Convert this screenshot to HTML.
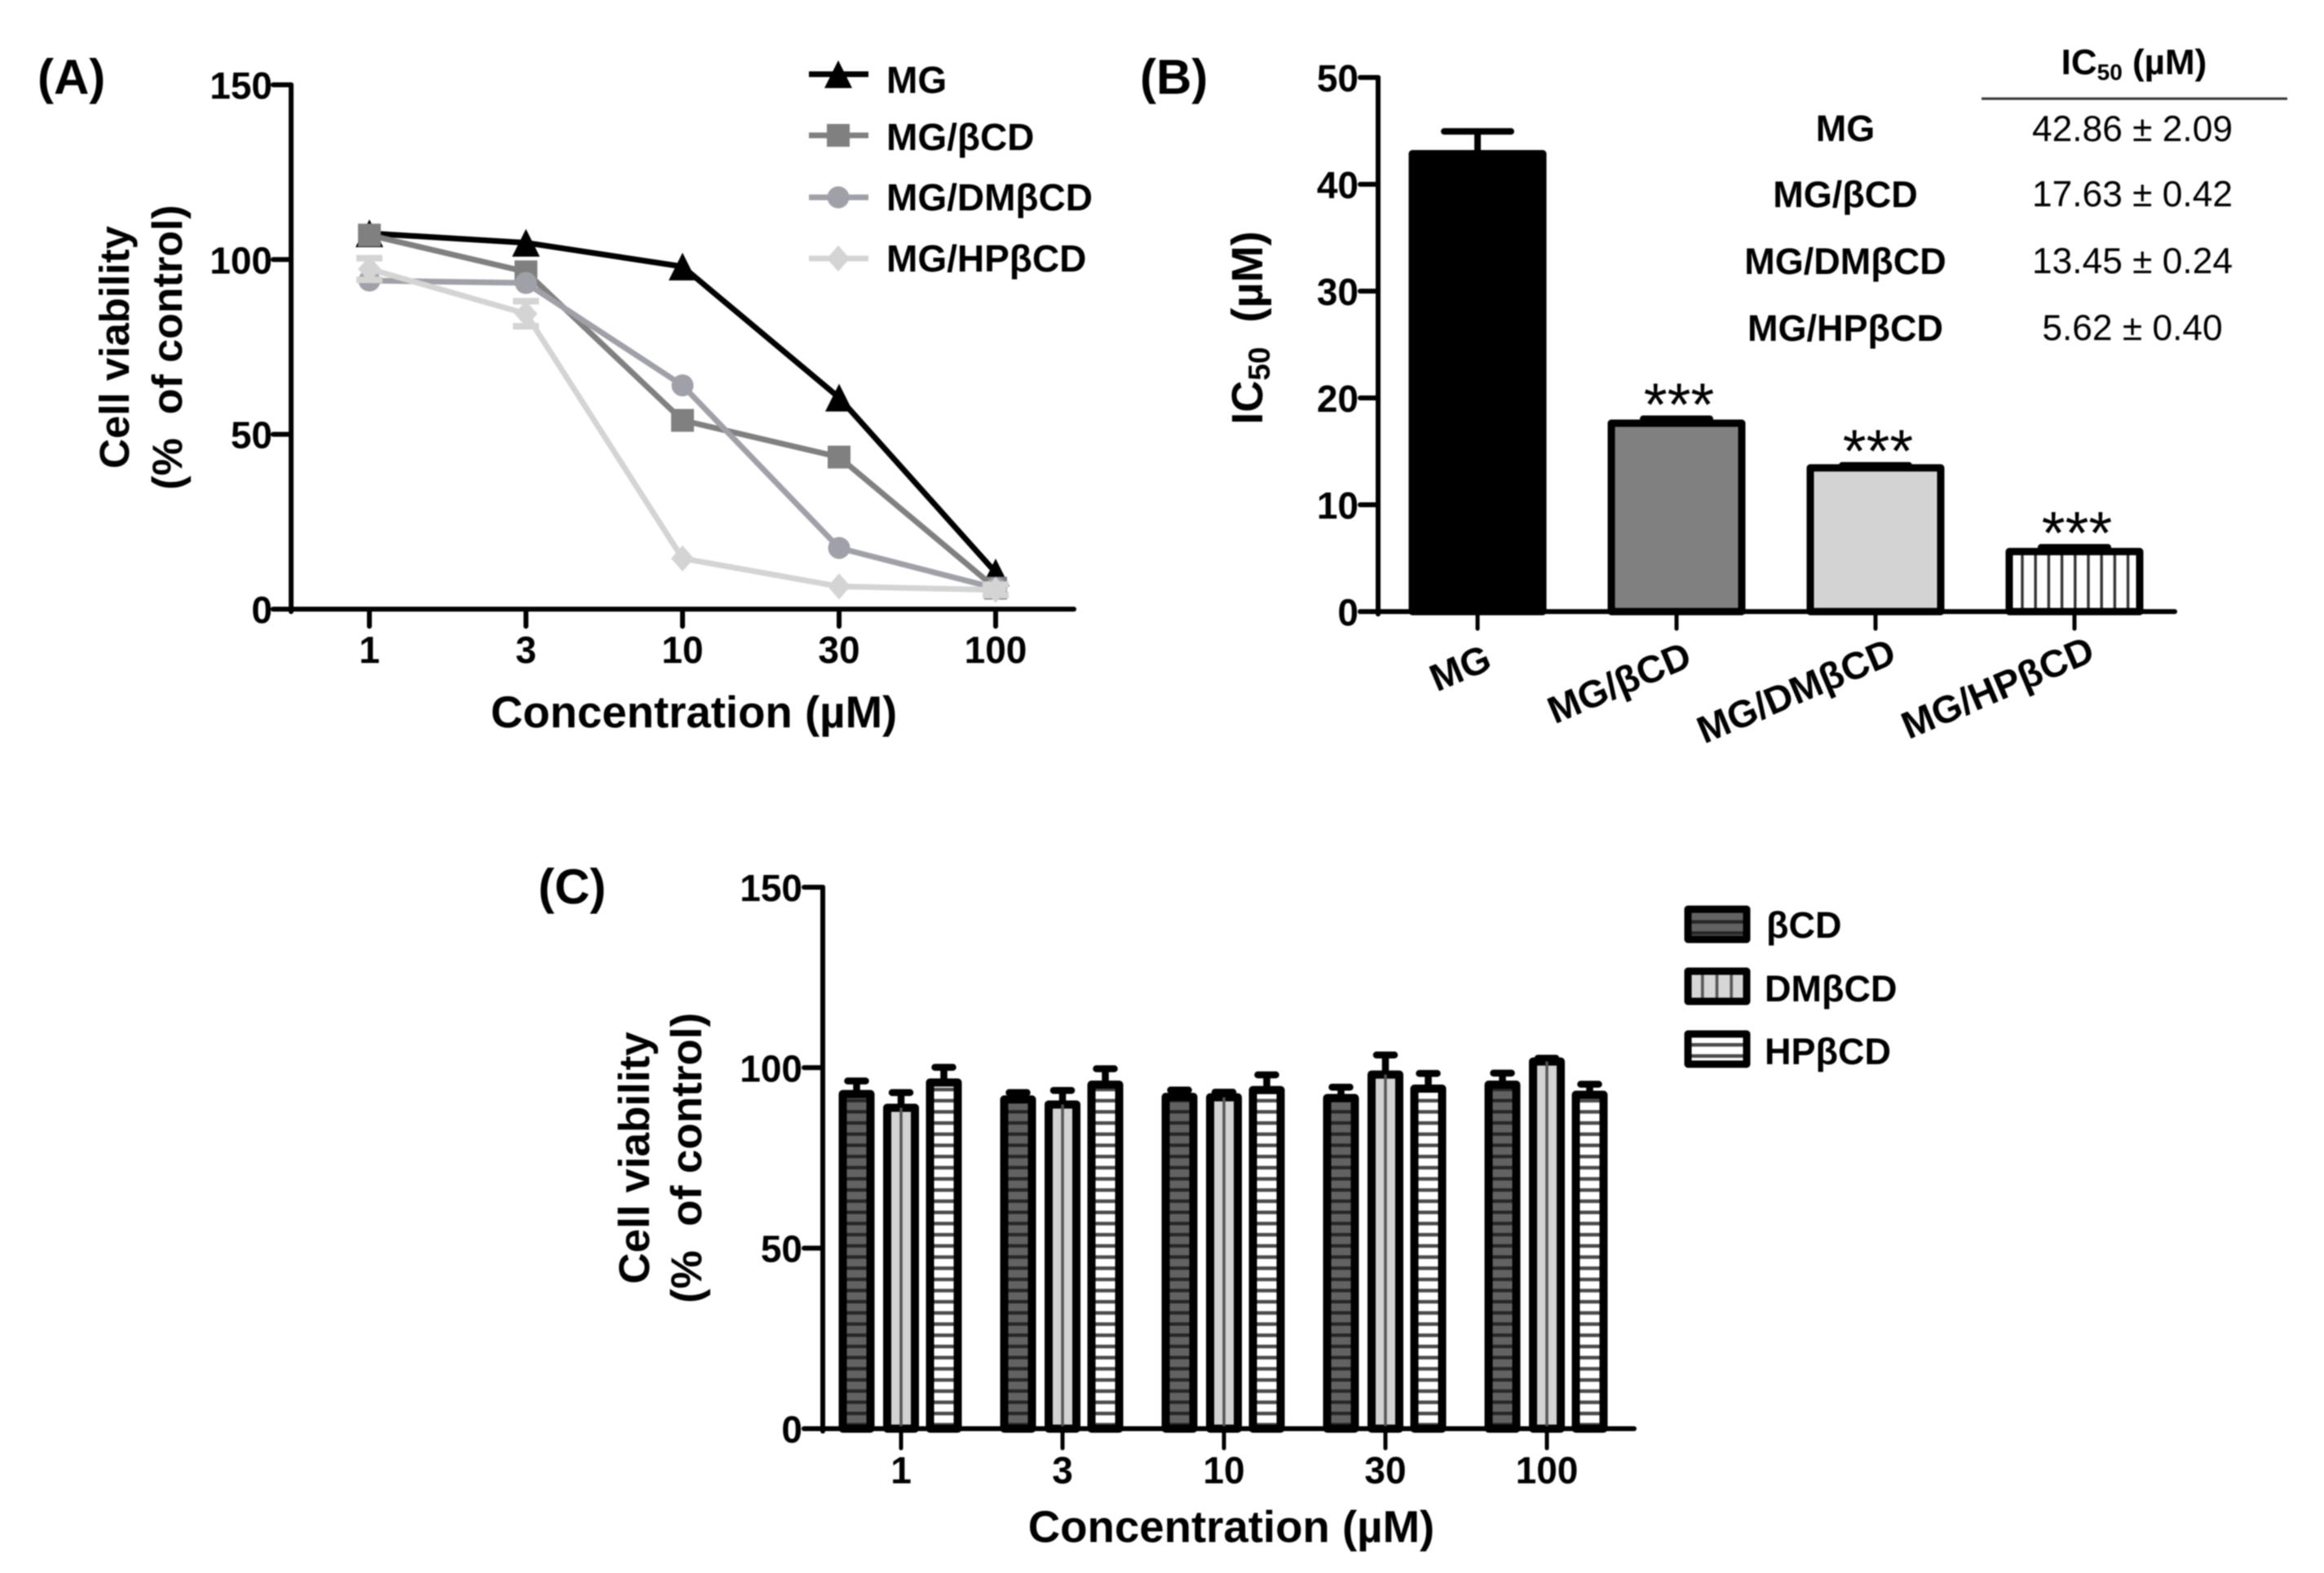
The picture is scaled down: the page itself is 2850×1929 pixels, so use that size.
<!DOCTYPE html>
<html lang="en">
<head>
<meta charset="utf-8">
<title>Cell viability and IC50 charts</title>
<style>
html,body{margin:0;padding:0;background:#fff;}
#figure{display:block;width:2850px;height:1929px;filter:blur(0.9px);}
text{font-family:"Liberation Sans",sans-serif;fill:#000;}
.b{font-weight:bold;}
</style>
</head>
<body>
<svg id="figure" xmlns="http://www.w3.org/2000/svg" width="2850" height="1929" viewBox="0 0 2850 1929">
  <defs>
    <pattern id="hatch-dark" patternUnits="userSpaceOnUse" width="20" height="13.7"><rect width="20" height="13.7" fill="#626262"/><rect y="5" width="20" height="4.2" fill="#262626"/></pattern>
    <pattern id="hatch-white" patternUnits="userSpaceOnUse" width="20" height="13.7"><rect width="20" height="13.7" fill="#fff"/><rect y="5" width="20" height="4.4" fill="#4a4a4a"/></pattern>
    <pattern id="hatch-vert" patternUnits="userSpaceOnUse" x="2471.9" width="16.2" height="20"><rect width="16.2" height="20" fill="#fff"/><rect x="6.4" width="3.4" height="20" fill="#333"/></pattern>
    <pattern id="hatch-legend" patternUnits="userSpaceOnUse" x="2079" width="17.7" height="20"><rect width="17.7" height="20" fill="#d6d6d6"/><rect x="7" width="3.6" height="20" fill="#555"/></pattern>
  </defs>

  <g id="panel-a">
    <text class="b" x="46" y="115" font-size="60">(A)</text>
    <text class="b" font-size="51" text-anchor="middle" transform="translate(158,426) rotate(-90)">Cell viability</text>
    <text class="b" font-size="52" text-anchor="middle" xml:space="preserve" transform="translate(223,426) rotate(-90)">(%&#160; of control)</text>
    <text class="b" font-size="54.6" text-anchor="middle" x="851" y="892">Concentration (µM)</text>
    <g>
      <text class="b" font-size="46" x="1087" y="114">MG</text>
      <text class="b" font-size="46" x="1087" y="184">MG/βCD</text>
      <text class="b" font-size="46" x="1087" y="258">MG/DMβCD</text>
      <text class="b" font-size="46" x="1087" y="333">MG/HPβCD</text>
    </g>
  </g>

  <g id="panel-b">
    <text class="b" x="1398" y="115" font-size="60">(B)</text>
    <text class="b" font-size="54" text-anchor="middle" xml:space="preserve" transform="translate(1548,402) rotate(-90)">IC<tspan font-size="37" dy="9">50</tspan><tspan dy="-9">&#160; (µM)</tspan></text>
    <g>
      <text class="b" font-size="44" text-anchor="middle" x="2617" y="91">IC<tspan font-size="28" dy="7">50</tspan><tspan dy="-7"> (µM)</tspan></text>
      <line x1="2430" x2="2805" y1="121" y2="121" stroke="#333" stroke-width="3"/>
      <text class="b" font-size="45" text-anchor="middle" x="2263" y="173">MG</text>
      <text class="b" font-size="45" text-anchor="middle" x="2263" y="254">MG/βCD</text>
      <text class="b" font-size="45" text-anchor="middle" x="2263" y="336">MG/DMβCD</text>
      <text class="b" font-size="45" text-anchor="middle" x="2263" y="418">MG/HPβCD</text>
      <text font-size="44.3" text-anchor="middle" x="2615" y="173">42.86 ± 2.09</text>
      <text font-size="44.3" text-anchor="middle" x="2615" y="253">17.63 ± 0.42</text>
      <text font-size="44.3" text-anchor="middle" x="2615" y="335">13.45 ± 0.24</text>
      <text font-size="44.3" text-anchor="middle" x="2615" y="417">5.62 ± 0.40</text>
    </g>
  </g>

  <g id="panel-c">
    <text class="b" x="660" y="1108" font-size="60">(C)</text>
    <text class="b" font-size="53" text-anchor="middle" transform="translate(796,1420) rotate(-90)">Cell viability</text>
    <text class="b" font-size="53" text-anchor="middle" xml:space="preserve" transform="translate(860,1420) rotate(-90)">(%&#160; of control)</text>
    <text class="b" font-size="54.6" text-anchor="middle" x="1510" y="1891">Concentration (µM)</text>
    <g>
      <text class="b" font-size="45" x="2166" y="1150">βCD</text>
      <text class="b" font-size="45" x="2164" y="1228">DMβCD</text>
      <text class="b" font-size="45" x="2164" y="1305">HPβCD</text>
    </g>
  </g>
</svg>

<script>
// Panel A data
var concLabels = ["1", "3", "10", "30", "100"];
var viabilityTicks = [0, 50, 100, 150];
var seriesMG = [107.5, 104.8, 98, 60.5, 10.5];
var seriesBCD = [107, 96.5, 54, 43.5, 6];
var seriesDM = [94, 93.3, 64, 17.5, 6];
var seriesHP = [97.3, 84.5, 14.5, 6.5, 5.5];
var errHP = [3.1, 3.6, 0, 0, 1.5];

// Panel B data
var ic50Labels = ["MG", "MG/βCD", "MG/DMβCD", "MG/HPβCD"];
var ic50Ticks = [0, 10, 20, 30, 40, 50];
var ic50Values = [42.86, 17.63, 13.45, 5.62];
var ic50Errors = [2.09, 0.42, 0.24, 0.4];
var ic50Stars = ["", "***", "***", "***"];

// Panel C data
var cdBCD = [92.7, 91.2, 91.9, 91.6, 95.3];
var cdDM = [88.9, 89.8, 91.8, 98.1, 101.7];
var cdHP = [95.9, 95.3, 93.8, 94.2, 92.5];
var errBCD = [3.6, 1.9, 1.9, 3, 3.2];
var errDM = [4.2, 3.9, 1.4, 5.4, 0.9];
var errHPc = [4.2, 4.4, 4.2, 4.2, 2.9];

var NS = "http://www.w3.org/2000/svg";
function mk(parent, tag, attrs, txt) {
  var e = document.createElementNS(NS, tag);
  for (var k in attrs) e.setAttribute(k, attrs[k]);
  if (txt !== undefined) e.textContent = txt;
  parent.appendChild(e);
  return e;
}
function axisLine(p, x1, y1, x2, y2, w) {
  return mk(p, "line", {x1:x1, y1:y1, x2:x2, y2:y2, stroke:"#000", "stroke-width":w || 6, "stroke-linecap":"round"});
}

// Axis functions
function xA(i) { return 453 + i * 192; }
function yA(v) { return 747 - v * 4.287; }
function xB(i) { return 1812 + i * 244; }
function yB(v) { return 750 - v * 13.1; }
function xC(i) { return 1105 + i * 198; }
function yC(v) { return 1752 - v * 4.427; }

var panelA = document.getElementById("panel-a");
var panelB = document.getElementById("panel-b");
var panelC = document.getElementById("panel-c");

/* ---------- Panel A ---------- */
viabilityTicks.forEach(function (t) {
  var tick = axisLine(panelA, 335, yA(t), 357, yA(t));
  
  
  var lab = mk(panelA, "text", {x:334, y:yA(t) + 17, "font-size":46, "text-anchor":"end", "class":"b"}, String(t));
  
  
});
var aYAxis = axisLine(panelA, 357, yA(150), 357, 750);


var aXAxis = axisLine(panelA, 335, 747, 1317, 747);


concLabels.forEach(function (c, i) {
  var tick = axisLine(panelA, xA(i), 747, xA(i), 768);
  
  
  var lab = mk(panelA, "text", {x:xA(i), y:813, "font-size":46, "text-anchor":"middle", "class":"b"}, c);
  
  
});

function marker(p, kind, x, y, color) {
  if (kind === "triangle") return mk(p, "polygon", {points:(x-17)+","+(y+17)+" "+x+","+(y-17)+" "+(x+17)+","+(y+17), fill:color});
  if (kind === "square") return mk(p, "rect", {x:x-14, y:y-14, width:28, height:28, fill:color});
  if (kind === "circle") return mk(p, "circle", {cx:x, cy:y, r:13.5, fill:color});
  return mk(p, "polygon", {points:(x-14)+","+y+" "+x+","+(y-16)+" "+(x+14)+","+y+" "+x+","+(y+16), fill:color});
}
function drawSeries(values, kind, color, errs) {
  var g = mk(panelA, "g", {});
  
  
  var line = mk(g, "polyline", {
    points: values.map(function (v, i) { return xA(i) + "," + yA(v); }).join(" "),
    fill:"none", stroke:color, "stroke-width":7, "stroke-linejoin":"round"
  });
  
  
  values.forEach(function (v, i) {
    if (errs && errs[i]) {
      var eb = mk(g, "path", {
        d:"M"+(xA(i)-16)+" "+yA(v+errs[i])+"H"+(xA(i)+16)+"M"+xA(i)+" "+yA(v+errs[i])+"V"+yA(v-errs[i])+"M"+(xA(i)-16)+" "+yA(v-errs[i])+"H"+(xA(i)+16),
        stroke:color, "stroke-width":8, fill:"none"
      });
      
      
    }
    var m = marker(g, kind, xA(i), yA(v), color);
    
    
  });
}
drawSeries(seriesMG, "triangle", "#000", null);
drawSeries(seriesBCD, "square", "#808080", null);
drawSeries(seriesDM, "circle", "#a0a0a8", null);
drawSeries(seriesHP, "diamond", "#d4d4d4", errHP);

[["triangle","#000",91],["square","#808080",166],["circle","#a0a0a8",242],["diamond","#d4d4d4",317]].forEach(function (l) {
  var ln = mk(panelA, "line", {x1:992, x2:1065, y1:l[2], y2:l[2], stroke:l[1], "stroke-width":7});
  
  
  var m = marker(panelA, l[0], 1028, l[2], l[1]);
  
  
});

/* ---------- Panel B ---------- */
ic50Ticks.forEach(function (t) {
  var tick = axisLine(panelB, 1668, yB(t), 1690, yB(t));
  
  
  var lab = mk(panelB, "text", {x:1666, y:yB(t) + 17, "font-size":46, "text-anchor":"end", "class":"b"}, String(t));
  
  
});
var bFills = ["#000", "#808080", "#d3d3d3", "url(#hatch-vert)"];
var bLabelDx = [-15, -64, -91, -88];
var bLabelDy = [834, 852, 862, 858];
ic50Values.forEach(function (v, i) {
  var cx = xB(i);
  var eb = mk(panelB, "path", {
    d:"M"+(cx-41)+" "+yB(v+ic50Errors[i])+"H"+(cx+41)+"M"+cx+" "+yB(v+ic50Errors[i])+"V"+yB(v),
    stroke:"#000", "stroke-width":8, fill:"none", "stroke-linecap":"round"
  });
  
  
  var bar = mk(panelB, "rect", {x:cx-80, y:yB(v), width:160, height:750-yB(v), fill:bFills[i], stroke:"#000", "stroke-width":9, "stroke-linejoin":"round"});
  
  
  if (ic50Stars[i]) {
    var st = mk(panelB, "text", {x:cx + 3, y:yB(v+ic50Errors[i]) + 8, "font-size":74, "text-anchor":"middle"}, ic50Stars[i]);
    
    
  }
  var tick = axisLine(panelB, cx, 750, cx, 771, 5);
  
  
  var lab = mk(panelB, "text", {"font-size":47, "text-anchor":"middle", "class":"b",
    transform:"translate("+(cx + bLabelDx[i])+","+bLabelDy[i]+") rotate(-23)"}, ic50Labels[i]);
  
  
});
var bYAxis = axisLine(panelB, 1690, yB(50), 1690, 753);


var bXAxis = axisLine(panelB, 1668, 750, 2667, 750);



/* ---------- Panel C ---------- */
viabilityTicks.forEach(function (t) {
  var tick = axisLine(panelC, 986, yC(t), 1009, yC(t));
  
  
  var lab = mk(panelC, "text", {x:984, y:yC(t) + 17, "font-size":46, "text-anchor":"end", "class":"b"}, String(t));
  
  
});
function drawCBar(cx, v, err, fill, vertical) {
  var eb = mk(panelC, "path", {
    d:"M"+(cx-11)+" "+yC(v+err)+"H"+(cx+11)+"M"+cx+" "+yC(v+err)+"V"+yC(v),
    stroke:"#000", "stroke-width":8.5, fill:"none", "stroke-linecap":"round"
  });
  
  
  var bar = mk(panelC, "rect", {x:cx-17, y:yC(v), width:34, height:1752-yC(v), fill:fill, stroke:"#000", "stroke-width":10, "stroke-linejoin":"round"});
  
  
  if (vertical) {
    var vl = mk(panelC, "line", {x1:cx, x2:cx, y1:yC(v), y2:1752, stroke:"#555", "stroke-width":3.5});
    
    
  }
}
concLabels.forEach(function (c, i) {
  drawCBar(xC(i) - 54.5, cdBCD[i], errBCD[i], "url(#hatch-dark)", false);
  drawCBar(xC(i), cdDM[i], errDM[i], "#d3d3d3", true);
  drawCBar(xC(i) + 52.5, cdHP[i], errHPc[i], "url(#hatch-white)", false);
  var tick = axisLine(panelC, xC(i), 1752, xC(i), 1776, 5);
  
  
  var lab = mk(panelC, "text", {x:xC(i), y:1819, "font-size":46, "text-anchor":"middle", "class":"b"}, c);
  
  
});
var cYAxis = axisLine(panelC, 1009, yC(150), 1009, 1755);


var cXAxis = axisLine(panelC, 986, 1752, 2004, 1752);



[["url(#hatch-dark)",1115],["url(#hatch-legend)",1191],["url(#hatch-white)",1268]].forEach(function (l) {
  var sw = mk(panelC, "rect", {x:2070, y:l[1], width:72, height:37, fill:l[0], stroke:"#000", "stroke-width":9, "stroke-linejoin":"round"});
  
  
});
</script>
</body>
</html>
